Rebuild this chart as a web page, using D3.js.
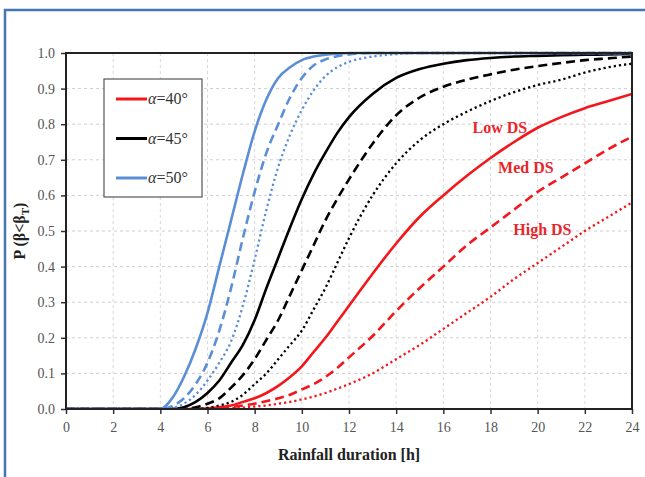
<!DOCTYPE html>
<html>
<head>
<meta charset="utf-8">
<script src="https://cdn.jsdelivr.net/npm/d3@7"></script>
<style>
  body { margin: 0; background: #fff; }
  svg { display: block; }
</style>
</head>
<body>
<div id="chart"></div>
<script>
// rainfall duration [h]
const hours = [0, 2, 4, 4.5, 5, 5.5, 6, 6.5, 7, 7.5, 8, 8.5, 9, 9.5, 10, 10.5, 11, 11.5, 12,
  13, 14, 15, 16, 17, 18, 19, 20, 21, 22, 23, 24]

// alpha = 50 deg
const blueLow = [0, 0, 0, 0.03, 0.09, 0.17, 0.27, 0.4, 0.53, 0.66, 0.78, 0.87, 0.93, 0.96, 0.98, 0.99, 0.995, 0.998, 1,
  1, 1, 1, 1, 1, 1, 1, 1, 1, 1, 1, 1]
const blueMed = [0, 0, 0, 0.008, 0.03, 0.07, 0.13, 0.22, 0.34, 0.48, 0.61, 0.72, 0.8, 0.875, 0.93, 0.965, 0.982, 0.991, 0.996,
  1, 1, 1, 1, 1, 1, 1, 1, 1, 1, 1, 1]
const blueHigh = [0, 0, 0, 0.003, 0.015, 0.04, 0.08, 0.13, 0.19, 0.29, 0.42, 0.56, 0.68, 0.77, 0.84, 0.895, 0.935, 0.96, 0.975,
  0.99, 0.997, 1, 1, 1, 1, 1, 1, 1, 1, 1, 1]

// alpha = 45 deg
const blackLow = [0, 0, 0, 0, 0.005, 0.02, 0.045, 0.08, 0.13, 0.18, 0.25, 0.34, 0.425, 0.51, 0.59, 0.66, 0.72, 0.775, 0.82,
  0.885, 0.93, 0.955, 0.97, 0.98, 0.986, 0.99, 0.992, 0.994, 0.995, 0.996, 0.997]
const blackMed = [0, 0, 0, 0, 0, 0.005, 0.015, 0.03, 0.06, 0.095, 0.14, 0.195, 0.25, 0.32, 0.39, 0.46, 0.53, 0.59, 0.645,
  0.745, 0.825, 0.875, 0.905, 0.925, 0.94, 0.953, 0.963, 0.972, 0.98, 0.985, 0.99]
const blackHigh = [0, 0, 0, 0, 0, 0, 0.003, 0.01, 0.02, 0.04, 0.07, 0.1, 0.14, 0.18, 0.22, 0.28, 0.34, 0.41, 0.48,
  0.6, 0.69, 0.755, 0.8, 0.835, 0.865, 0.89, 0.91, 0.925, 0.945, 0.96, 0.97]

// alpha = 40 deg
const redLow = [0, 0, 0, 0, 0, 0, 0.002, 0.005, 0.01, 0.02, 0.03, 0.045, 0.065, 0.09, 0.12, 0.16, 0.2, 0.245, 0.29,
  0.38, 0.465, 0.54, 0.6, 0.655, 0.705, 0.75, 0.79, 0.82, 0.845, 0.865, 0.885]
const redMed = [0, 0, 0, 0, 0, 0, 0, 0.002, 0.005, 0.01, 0.015, 0.022, 0.03, 0.04, 0.055, 0.07, 0.09, 0.115, 0.145,
  0.205, 0.275, 0.34, 0.4, 0.46, 0.51, 0.56, 0.61, 0.65, 0.69, 0.73, 0.765]
const redHigh = [0, 0, 0, 0, 0, 0, 0, 0, 0.002, 0.004, 0.007, 0.01, 0.015, 0.02, 0.027, 0.035, 0.045, 0.057, 0.07,
  0.1, 0.14, 0.18, 0.225, 0.27, 0.315, 0.365, 0.41, 0.455, 0.5, 0.54, 0.58]

const xTicks = [0, 2, 4, 6, 8, 10, 12, 14, 16, 18, 20, 22, 24]
const yTicks = [0, 0.1, 0.2, 0.3, 0.4, 0.5, 0.6, 0.7, 0.8, 0.9, 1.0]
const legendLabels = ['α=40°', 'α=45°', 'α=50°']
const dsLabels = ['Low DS', 'Med DS', 'High DS']

const RED = '#f5161b', BLACK = '#000000', BLUE = '#5b8ed6'
const DASHES = { solid: null, dashed: '9,5', dotted: '2.2,3' }
const SERIF = '"Liberation Serif", "Times New Roman", serif'

const series = [
  { values: redLow, color: RED, style: 'solid' },
  { values: redMed, color: RED, style: 'dashed' },
  { values: redHigh, color: RED, style: 'dotted' },
  { values: blackLow, color: BLACK, style: 'solid' },
  { values: blackMed, color: BLACK, style: 'dashed' },
  { values: blackHigh, color: BLACK, style: 'dotted' },
  { values: blueLow, color: BLUE, style: 'solid' },
  { values: blueMed, color: BLUE, style: 'dashed' },
  { values: blueHigh, color: BLUE, style: 'dotted' },
]

const W = 645, H = 477
const margin = { top: 53, right: 13, bottom: 68, left: 66 },
  width = W - margin.left - margin.right,
  height = H - margin.top - margin.bottom

const root = d3.select('#chart').append('svg').attr('width', W).attr('height', H)

// blue page frame
root.append('rect')
  .attr('x', 5).attr('y', 10).attr('width', 700).attr('height', 600)
  .attr('fill', 'none').attr('stroke', '#4676b0').attr('stroke-width', 2.5)

const svg = root.append('g').attr('transform', `translate(${margin.left},${margin.top})`)

const x = d3.scaleLinear().domain([0, 24]).range([0, width])
const y = d3.scaleLinear().domain([0, 1]).range([height, 0])

// grid
svg.append('g')
  .selectAll('line')
  .data(yTicks.slice(1, -1))
  .enter()
  .append('line')
  .attr('x1', 0).attr('x2', width)
  .attr('y1', (d) => y(d)).attr('y2', (d) => y(d))
  .attr('stroke', '#cfcfcf').attr('stroke-dasharray', '3,3')
svg.append('g')
  .selectAll('line')
  .data(xTicks.slice(1, -1))
  .enter()
  .append('line')
  .attr('y1', 0).attr('y2', height)
  .attr('x1', (d) => x(d)).attr('x2', (d) => x(d))
  .attr('stroke', '#d8d8d8').attr('stroke-dasharray', '3,3')

// axes
const xAxis = svg.append('g')
  .attr('transform', `translate(0,${height})`)
  .call(d3.axisBottom(x).tickValues(xTicks).tickSize(5).tickPadding(8).tickFormat(d3.format('d')))
const yAxis = svg.append('g')
  .call(d3.axisLeft(y).tickValues(yTicks).tickSize(5).tickPadding(6).tickFormat(d3.format('.1f')))
;[xAxis, yAxis].forEach((a) => {
  a.attr('font-family', SERIF).attr('font-size', 14)
  a.select('.domain').remove()
  a.selectAll('line').attr('stroke', '#333').attr('stroke-width', 1.5)
  a.selectAll('text').attr('fill', '#555')
})

// curves
const clip = svg.append('clipPath').attr('id', 'plotClip')
clip.append('rect').attr('x', 0).attr('y', -2).attr('width', width).attr('height', height + 2)

const line = d3.line()
  .x((d) => x(d[0]))
  .y((d) => y(d[1]))
  .curve(d3.curveMonotoneX)

svg.append('g')
  .attr('clip-path', 'url(#plotClip)')
  .selectAll('path')
  .data(series)
  .enter()
  .append('path')
  .attr('d', (s) => line(hours.map((h, i) => [h, s.values[i]])))
  .attr('fill', 'none')
  .attr('stroke', (s) => s.color)
  .attr('stroke-width', (s) => (s.style === 'dotted' ? 2.3 : 2.6))
  .attr('stroke-dasharray', (s) => DASHES[s.style])

// plot frame
svg.append('rect')
  .attr('width', width).attr('height', height)
  .attr('fill', 'none').attr('stroke', '#222').attr('stroke-width', 2)

// legend
const legend = svg.append('g').attr('transform', `translate(${104 - margin.left},${79 - margin.top})`)
legend.append('rect')
  .attr('width', 98).attr('height', 118)
  .attr('fill', '#fff').attr('stroke', '#555').attr('stroke-width', 1.2)
const legendColors = [RED, BLACK, BLUE]
legendLabels.forEach((lab, i) => {
  const ly = 20 + i * 39.5
  legend.append('line')
    .attr('x1', 12).attr('x2', 43).attr('y1', ly).attr('y2', ly)
    .attr('stroke', legendColors[i]).attr('stroke-width', 3)
  const t = legend.append('text')
    .attr('x', 44).attr('y', ly + 5)
    .attr('fill', '#333')
    .style('font-family', SERIF)
    .style('font-size', '16px')
  t.append('tspan').style('font-style', 'italic').text(lab.slice(0, 1))
  t.append('tspan').text(lab.slice(1))
})

// damage state labels
const dsPos = [[18.4, 0.775], [19.5, 0.663], [20.2, 0.489]]
svg.selectAll('.ds')
  .data(dsLabels)
  .enter()
  .append('text')
  .attr('class', 'ds')
  .attr('x', (d, i) => x(dsPos[i][0]))
  .attr('y', (d, i) => y(dsPos[i][1]))
  .attr('fill', '#e8262b')
  .attr('text-anchor', 'middle')
  .style('font-family', SERIF)
  .style('font-weight', 'bold')
  .style('font-size', '16px')
  .text((d) => d)

// axis titles
svg.append('text')
  .attr('x', width / 2).attr('y', height + 51)
  .attr('text-anchor', 'middle')
  .attr('fill', '#222')
  .style('font-family', SERIF)
  .style('font-weight', 'bold')
  .style('font-size', '16px')
  .text('Rainfall duration [h]')

const yt = svg.append('text')
  .attr('transform', `translate(${-41},${height / 2}) rotate(-90)`)
  .attr('text-anchor', 'middle')
  .attr('fill', '#222')
  .style('font-family', SERIF)
  .style('font-weight', 'bold')
  .style('font-size', '16px')
yt.append('tspan').text('P (β<β')
yt.append('tspan').attr('dy', 4).style('font-size', '11px').text('T')
yt.append('tspan').attr('dy', -4).text(')')
</script>
</body>
</html>
